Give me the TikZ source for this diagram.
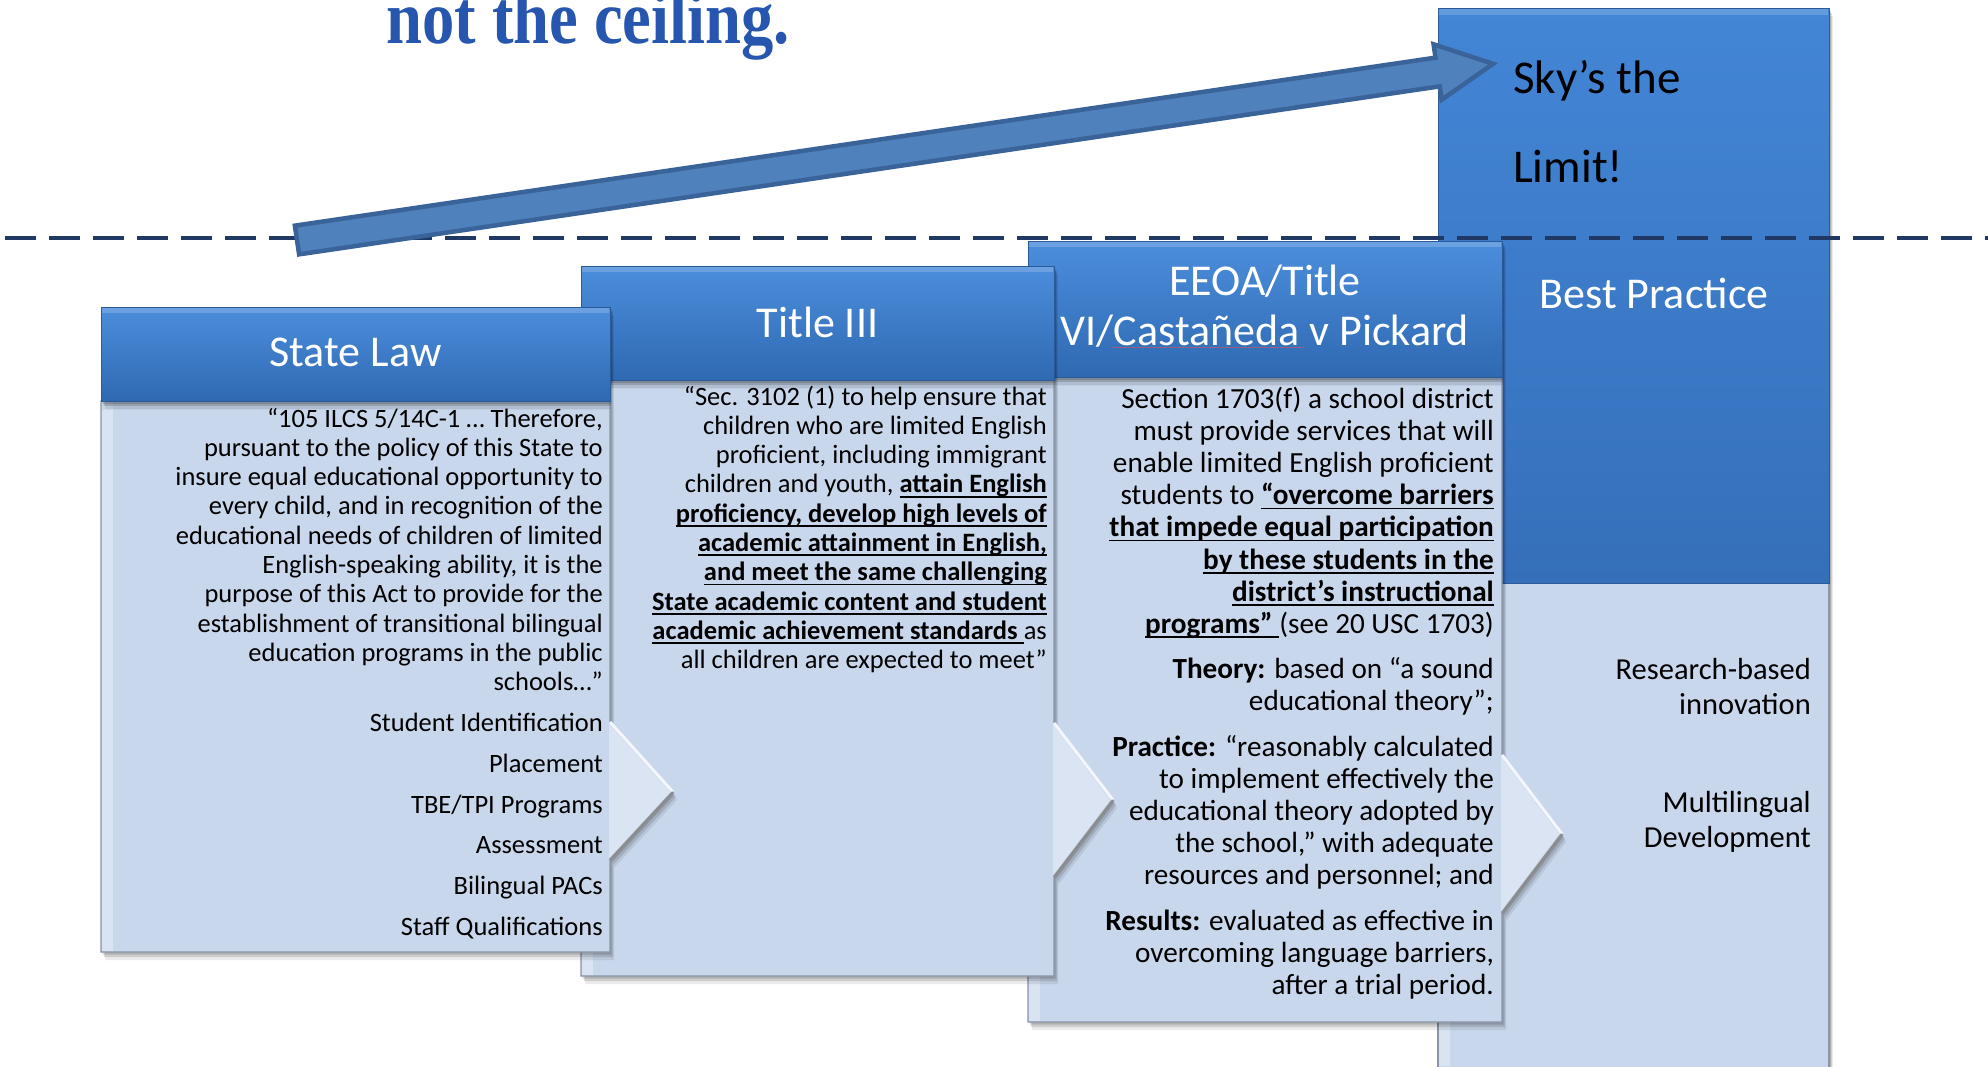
\documentclass[tikz,border=0pt]{standalone}
\usepackage{fontspec}
\setmainfont{Carlito}
\newfontfamily\headlinefont{Liberation Serif}

\definecolor{hdrtop}{HTML}{4C8EDC}
\definecolor{hdrbot}{HTML}{2F69B2}
\definecolor{hdredge}{HTML}{2A5A98}
\definecolor{skytop}{HTML}{4386D6}
\definecolor{skybot}{HTML}{356FBA}
\definecolor{bodyL}{HTML}{D0DCEE}
\definecolor{bodyR}{HTML}{C9D7EC}
\definecolor{edgegrey}{HTML}{8A96A8}
\definecolor{bandgrey}{HTML}{AAB8CC}
\definecolor{navy}{HTML}{1F3864}
\definecolor{arrowfill}{HTML}{4F81BD}
\definecolor{arrowline}{HTML}{3A639A}
\definecolor{headlineblue}{HTML}{2756AE}

% underline with a fixed depth below the baseline
\newcommand{\ulx}[1]{\setbox0=\hbox{#1}\rlap{\rule[-4.6pt]{\wd0}{1.7pt}}\box0}

% soft shadow behind a closed path given as #1
\newcommand{\softshadow}[1]{%
  \begin{scope}[shift={(4,8)}]\fill[black, opacity=.08] #1;\end{scope}
  \begin{scope}[shift={(3,5)}]\fill[black, opacity=.12] #1;\end{scope}
  \begin{scope}[shift={(1.5,2.5)}]\fill[black, opacity=.14] #1;\end{scope}
}

% one stair step: #1 left, #2 right, #3 header top, #4 header bottom,
% #5 body bottom, #6 chevron start, #7 tip x, #8 tip y, #9 chevron end
\newcommand{\stairstep}[9]{%
  \softshadow{(#1,#4) -- (#2,#4) -- (#2,#6) -- (#7,#8) -- (#2,#9)
        -- (#2,#5) -- (#1,#5) -- cycle}
  \path[bodyshape] (#1,#4) -- (#2,#4) -- (#2,#6) -- (#7,#8) -- (#2,#9)
        -- (#2,#5) -- (#1,#5) -- cycle;
  \fill[chevface] (#2-1,#6+2) -- (#7-3,#8) -- (#2-1,#9-2) -- cycle;
  \draw[chevlit] (#2,#6) -- (#7,#8);
  \draw[chevdark] (#7,#8) -- (#2,#9);
  \fill[white, opacity=.3] (#1+1,#4) rectangle (#1+12,#5-1);
  \fill[bandgrey, opacity=.55] (#1+1,#4) rectangle (#2-1,#4+5);
  \fill[bandgrey, opacity=.3] (#1+1,#4+5) rectangle (#2-1,#4+9);
  \softshadow{(#1,#3) rectangle (#2,#4)}
  \path[headshape] (#1,#3) rectangle (#2,#4);
  \fill[white, opacity=.18] (#1+1,#3+1) rectangle (#2-1,#3+6);
}

\begin{document}
\begin{tikzpicture}[x=1pt,y=-1pt,
  bodyshape/.style={fill=bodyR, draw=edgegrey, line width=1.3pt},
  headshape/.style={top color=hdrtop, bottom color=hdrbot, draw=hdredge,
    line width=1pt},
  chevface/.style={fill=white!22!bodyL},
  chevlit/.style={draw=white!75!bodyL, line width=3pt},
  chevdark/.style={draw=black!45, line width=2.5pt},
  headtext/.style={text=white, font=\fontsize{44}{50}\selectfont, inner sep=0pt},
  smalltext/.style={align=right, inner sep=0pt, anchor=base east,
    font=\fontsize{26.5}{29.3}\selectfont},
  midtext/.style={align=right, inner sep=0pt, anchor=base east,
    font=\fontsize{29.2}{32.2}\selectfont},
  sidetext/.style={align=right, inner sep=0pt, anchor=base east,
    font=\fontsize{30.5}{35.5}\selectfont}
]
\useasboundingbox (0,0) rectangle (1988,1066);
\fill[white] (0,0) rectangle (1988,1066);

% fourth step: Best Practice
\softshadow{(1438,8) rectangle (1829,1085)}
\path[bodyshape] (1438,583) rectangle (1829,1085);
\fill[white, opacity=.3] (1439,583) rectangle (1450,1066);
\path[headshape, top color=skytop, bottom color=skybot] (1438,8) rectangle (1829,583);
\fill[white, opacity=.18] (1439,9) rectangle (1828,15);

% third, second and first steps, back to front
\stairstep{1028}{1502}{241}{377}{1022}{755}{1562}{834}{913}
\stairstep{581}{1054}{266}{380}{976}{723}{1113}{800}{877}
\stairstep{101}{610}{307}{401}{952}{722}{673}{792}{860}

% ceiling line
\draw[navy, line width=4.5pt, dash pattern=on 31pt off 13pt] (5,238) -- (1988,238);

% rising block arrow
\begin{scope}[shift={(297,240)}, rotate=8.38]
  \filldraw[fill=arrowfill, draw=arrowline, line width=4.5pt, line join=miter]
    (0,-14.5) -- (1153,-14.5) -- (1153,-28) -- (1209,0) -- (1153,28)
    -- (1153,14.5) -- (0,14.5) -- cycle;
\end{scope}

% headline fragment at the top edge
\node[anchor=base west, inner sep=0pt, text=headlineblue, xscale=0.85,
  font=\headlinefont\bfseries\fontsize{76}{80}\selectfont] (headline)
  at (386,43) {not the ceiling.};

% header captions (base anchor sits on the last line)
\node[headtext, anchor=base] (lawhead) at (355.5,366) {State Law};
\node[headtext, anchor=base] (titlehead) at (817.5,337) {Title III};
\node[headtext, anchor=base, align=center] (eeoahead) at (1265,345)
  {EEOA/Title\\VI/Castañeda v Pickard};
\draw[red!70!white, line width=1pt, opacity=.5] (1112,347) -- (1304,347);
\node[headtext, anchor=base] (besthead) at (1654,308) {Best Practice};
\node[anchor=base west, inner sep=0pt, align=left, text=black,
  font=\fontsize{47}{89}\selectfont] (sky) at (1513,182) {Sky’s the\\Limit!};

% State Law body
\node[smalltext] (lawtext) at (603,935.5) {%
“105 ILCS 5/14C-1 … Therefore,\\
pursuant to the policy of this State to\\
insure equal educational opportunity to\\
every child, and in recognition of the\\
educational needs of children of limited\\
English-speaking ability, it is the\\
purpose of this Act to provide for the\\
establishment of transitional bilingual\\
education programs in the public\\
schools…”\\[11.5pt]
Student Identification\\[11.5pt]
Placement\\[11.5pt]
TBE/TPI Programs\\[11.5pt]
Assessment\\[11.5pt]
Bilingual PACs\\[11.5pt]
Staff Qualifications};

% Title III body
\node[smalltext] (titletext) at (1047,668.7) {%
“Sec. 3102 (1) to help ensure that\\
children who are limited English\\
proficient, including immigrant\\
children and youth, \ulx{\textbf{attain English}}\\
\ulx{\textbf{proficiency, develop high levels of}}\\
\ulx{\textbf{academic attainment in English,}}\\
\ulx{\textbf{and meet the same challenging}}\\
\ulx{\textbf{State academic content and student}}\\
\ulx{\textbf{academic achievement standards}\ }as\\
all children are expected to meet”};

% EEOA body
\node[midtext] (eeoatext) at (1494,994.4) {%
Section 1703(f) a school district\\
must provide services that will\\
enable limited English proficient\\
students to \ulx{\textbf{“overcome barriers}}\\
\ulx{\textbf{that impede equal participation}}\\
\ulx{\textbf{by these students in the}}\\
\ulx{\textbf{district’s instructional}}\\
\ulx{\textbf{programs”}\ }(see 20 USC 1703)\\[13pt]
\textbf{Theory:} based on “a sound\\
educational theory”;\\[13pt]
\textbf{Practice:} “reasonably calculated\\
to implement effectively the\\
educational theory adopted by\\
the school,” with adequate\\
resources and personnel; and\\[13pt]
\textbf{Results:} evaluated as effective in\\
overcoming language barriers,\\
after a trial period.};

% Best Practice body
\node[sidetext] (research) at (1811,714.5) {Research-based\\innovation};
\node[sidetext] (multi) at (1811,847.5) {Multilingual\\Development};
\end{tikzpicture}
\end{document}
